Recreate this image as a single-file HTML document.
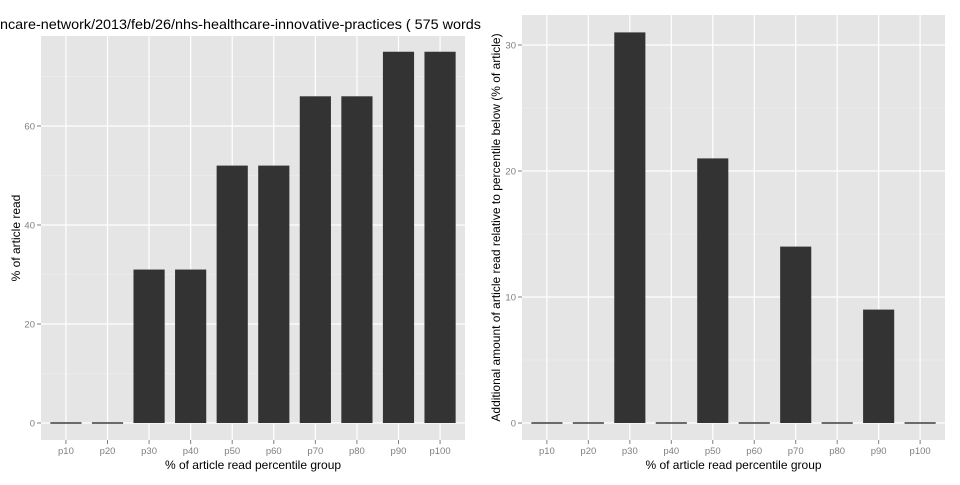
<!DOCTYPE html>
<html><head><meta charset="utf-8"><style>
body{margin:0;background:#fff;}
text{font-family:"Liberation Sans",sans-serif;}
</style></head><body>
<svg id="svg" width="960" height="480" xmlns="http://www.w3.org/2000/svg"></svg>
<script>
const categories=["p10","p20","p30","p40","p50","p60","p70","p80","p90","p100"];
const leftValues=[0,0,31,31,52,52,66,66,75,75];
const rightValues=[0,0,31,0,21,0,14,0,9,0];
const leftTicks=[0,20,40,60];
const rightTicks=[0,10,20,30];
const svg=document.getElementById('svg');
const NS="http://www.w3.org/2000/svg";
function mk(tag,attrs,parent){const e=document.createElementNS(NS,tag);for(const k in attrs)e.setAttribute(k,attrs[k]);(parent||svg).appendChild(e);return e;}
function panel(name,x0,x1,y0,y1,zeroY,unitPx,vals,ticks,minorStep,ytitle,ytx){
  const g=mk('g',{});
  
  
  const bg=mk('rect',{x:x0,y:y0,width:x1-x0,height:y1-y0,fill:'#e5e5e5'},g);
  
  
  const yS=v=>zeroY-v*unitPx;
  const step=(x1-x0)/(categories.length+0.2);
  const xS=i=>x0+step*(0.6+i);
  const maxV=(zeroY-y0)/unitPx;
  for(let v=minorStep;v<maxV;v+=2*minorStep){mk('line',{x1:x0,x2:x1,y1:yS(v),y2:yS(v),stroke:'#f2f2f2','stroke-width':0.6},g);}
  ticks.forEach(t=>{
    mk('line',{x1:x0,x2:x1,y1:yS(t),y2:yS(t),stroke:'#fff','stroke-width':1.2},g);
    mk('line',{x1:x0-4,x2:x0,y1:yS(t),y2:yS(t),stroke:'#7f7f7f'},g);
    const tl=mk('text',{x:x0-6,y:yS(t)+3.5,'text-anchor':'end','font-size':9.5,fill:'#7f7f7f'},g);
    tl.textContent=t;
    
    
  });
  categories.forEach((c,i)=>{
    const cx=xS(i);
    mk('line',{x1:cx,x2:cx,y1:y0,y2:y1,stroke:'#fff','stroke-width':1.2},g);
    mk('line',{x1:cx,x2:cx,y1:y1,y2:y1+4,stroke:'#7f7f7f'},g);
    const tl=mk('text',{x:cx,y:y1+14,'text-anchor':'middle','font-size':9.5,fill:'#7f7f7f'},g);
    tl.textContent=c;
    
    
  });
  const bw=step*0.75;
  vals.forEach((v,i)=>{
    const top=yS(v);
    const b=mk('rect',{x:xS(i)-bw/2,y:Math.min(top,zeroY-0.7),width:bw,height:Math.max(zeroY-top,1.4),fill:'#333'},g);
    
    
  });
  const xt=mk('text',{x:(x0+x1)/2,y:y1+29,'text-anchor':'middle','font-size':12,fill:'#000'},g);
  xt.textContent='% of article read percentile group';
  
  
  const yt=mk('text',{x:0,y:0,'text-anchor':'middle','font-size':12,fill:'#000',transform:`translate(${ytx},${(y0+y1)/2}) rotate(-90)`},g);
  yt.textContent=ytitle;
  
  
}
panel('left-panel',41,465,36,440,423,4.95,leftValues,leftTicks,10,'% of article read',20);
panel('right-panel',522,945,15,440,423,12.6,rightValues,rightTicks,5,'Additional amount of article read relative to percentile below (% of article)',500);
const title=mk('text',{x:0,y:29,'font-size':14,fill:'#000',textLength:481,lengthAdjust:'spacingAndGlyphs'});
title.textContent='ncare-network/2013/feb/26/nhs-healthcare-innovative-practices ( 575 words';


</script>
</body></html>
